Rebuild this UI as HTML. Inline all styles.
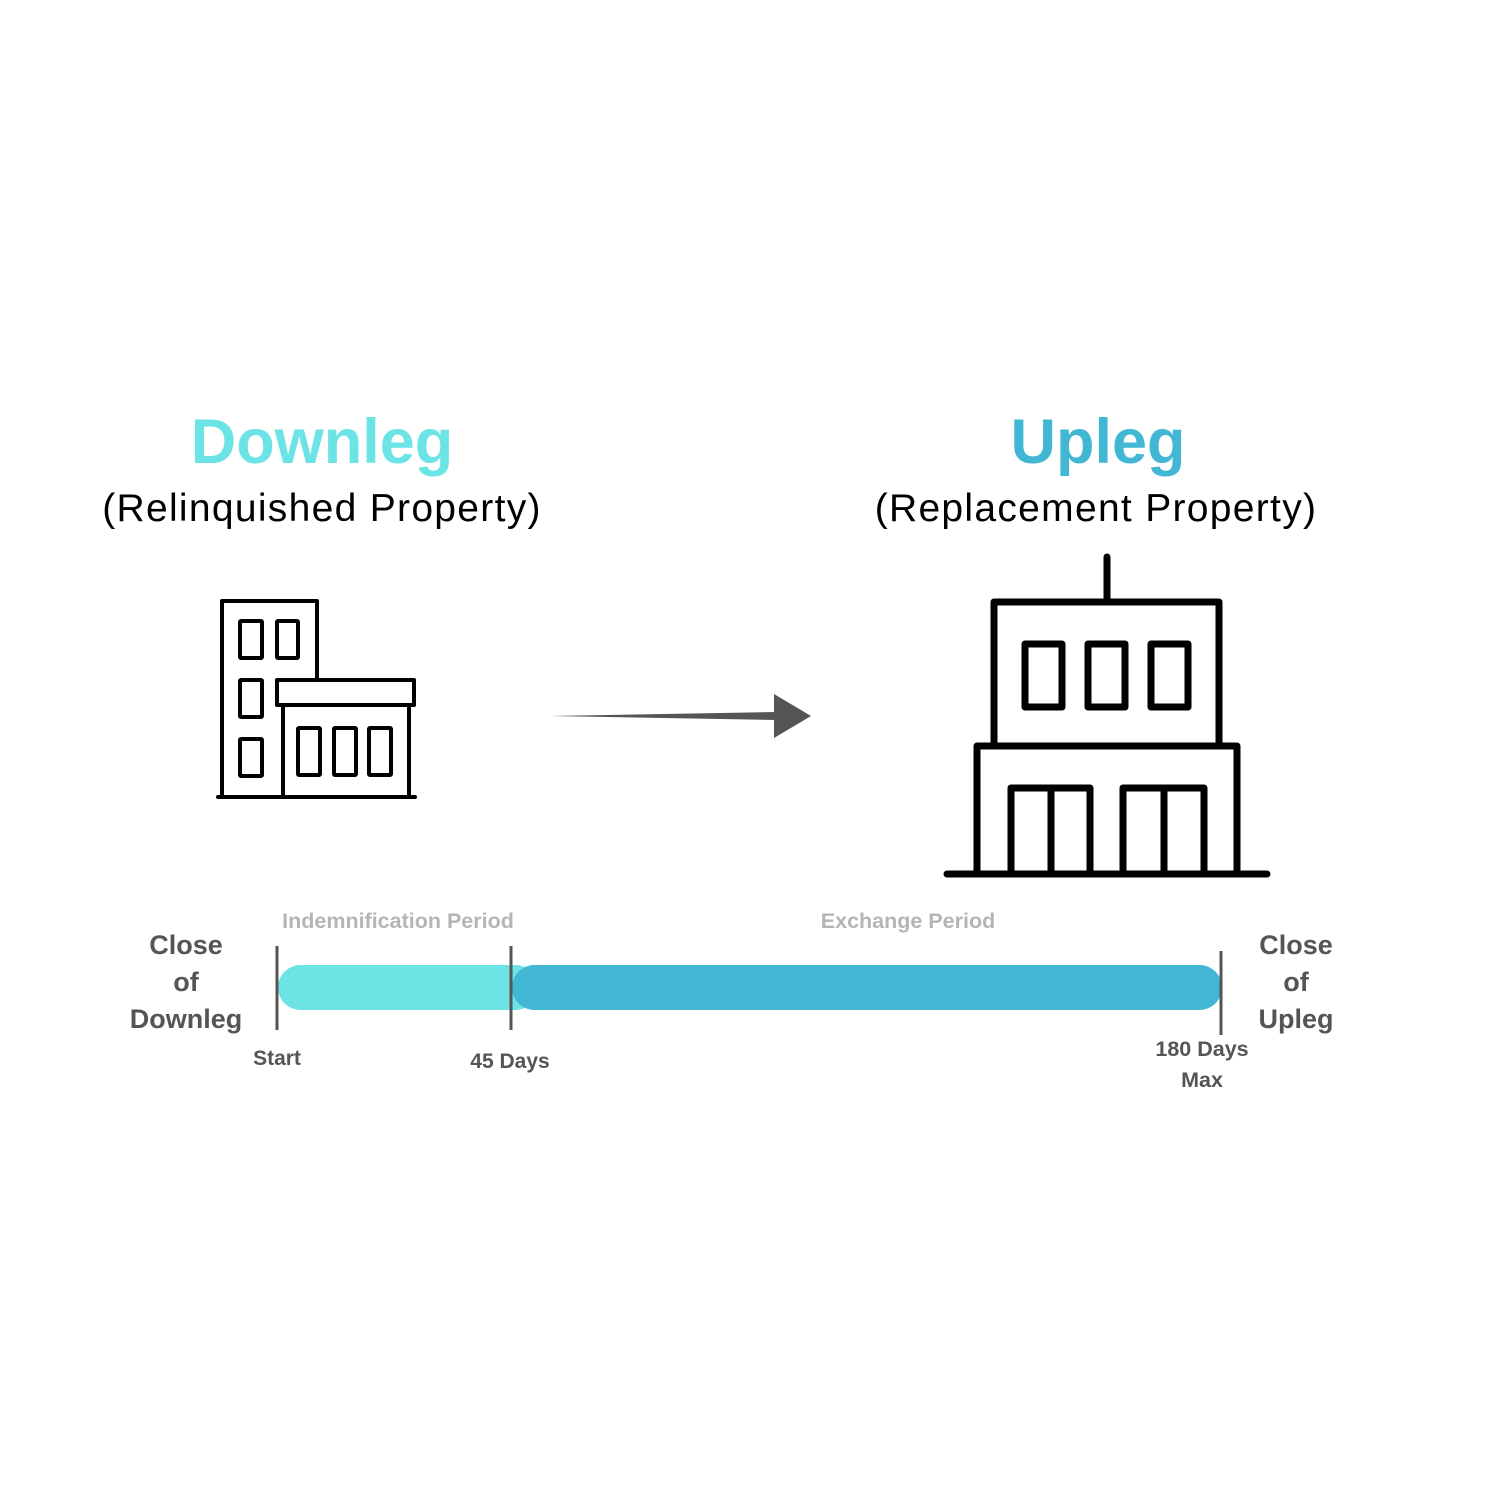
<!DOCTYPE html>
<html><head><meta charset="utf-8"><style>
html,body{margin:0;padding:0;background:#fff;}
body{width:1500px;height:1500px;position:relative;overflow:hidden;font-family:"Liberation Sans",sans-serif;}
.t{position:absolute;white-space:nowrap;text-align:center;}
</style></head><body>
<svg width="1500" height="1500" style="position:absolute;left:0;top:0">
<g fill="none" stroke="#000" stroke-width="4" stroke-linejoin="round" stroke-linecap="round">
<polyline points="222,797 222,601 317,601 317,679"/>
<rect x="240" y="621" width="22" height="37" rx="1"/>
<rect x="277" y="621" width="21" height="37" rx="1"/>
<rect x="240" y="680" width="22" height="37" rx="1"/>
<rect x="240" y="739" width="22" height="37" rx="1"/>
<rect x="277" y="680" width="137" height="25"/>
<polyline points="283,705 283,797"/><polyline points="409,705 409,797"/>
<rect x="298" y="728" width="22" height="47" rx="1"/>
<rect x="334" y="728" width="22" height="47" rx="1"/>
<rect x="369" y="728" width="22" height="47" rx="1"/>
<line x1="218" y1="797" x2="415" y2="797"/>
</g>
<g fill="none" stroke="#000" stroke-width="7" stroke-linejoin="round" stroke-linecap="round">
<line x1="1107" y1="557" x2="1107" y2="601"/>
<polyline points="994,745 994,602 1219,602 1219,745"/>
<rect x="1025" y="644" width="37" height="63"/>
<rect x="1088" y="644" width="37" height="63"/>
<rect x="1151" y="644" width="37" height="63"/>
<polyline points="977,874 977,746 1237,746 1237,874"/>
<polyline points="1011,874 1011,788 1090,788 1090,874"/>
<line x1="1051" y1="788" x2="1051" y2="874"/>
<polyline points="1123,874 1123,788 1204,788 1204,874"/>
<line x1="1164" y1="788" x2="1164" y2="874"/>
<line x1="947" y1="874" x2="1267" y2="874"/>
</g>
<polygon points="550,716 776,712 776,720" fill="#555"/>
<polygon points="774,694 811,716 774,738" fill="#555"/>
<rect x="278" y="965" width="260" height="45" rx="22.5" fill="#6ce3e5"/>
<rect x="512" y="965" width="710" height="45" rx="22.5" fill="#41b7d3"/>
<g stroke="#555" stroke-width="3">
<line x1="277" y1="946" x2="277" y2="1030"/>
<line x1="511" y1="946" x2="511" y2="1030"/>
<line x1="1221" y1="951" x2="1221" y2="1035"/>
</g>
</svg>
<div class="t" style="left:122px;top:406px;width:400px;font-size:63px;font-weight:bold;color:#6ce3e5">Downleg</div>
<div class="t" style="left:898px;top:406px;width:400px;font-size:63px;font-weight:bold;color:#41b7d3">Upleg</div>
<div class="t" style="left:72px;top:487px;width:500px;font-size:39px;letter-spacing:1.3px;color:#000">(Relinquished Property)</div>
<div class="t" style="left:846px;top:487px;width:500px;font-size:39px;letter-spacing:1.3px;color:#000">(Replacement Property)</div>
<div class="t" style="left:248px;top:909px;width:300px;font-size:21.5px;font-weight:bold;color:#b5b5b5">Indemnification Period</div>
<div class="t" style="left:758px;top:909px;width:300px;font-size:21.5px;font-weight:bold;color:#b5b5b5">Exchange Period</div>
<div class="t" style="left:106px;top:927px;width:160px;font-size:27px;font-weight:bold;color:#555;line-height:37px">Close<br>of<br>Downleg</div>
<div class="t" style="left:1216px;top:927px;width:160px;font-size:27px;font-weight:bold;color:#555;line-height:37px">Close<br>of<br>Upleg</div>
<div class="t" style="left:217px;top:1047px;width:120px;font-size:21px;font-weight:bold;color:#555">Start</div>
<div class="t" style="left:450px;top:1050px;width:120px;font-size:21px;font-weight:bold;color:#555">45 Days</div>
<div class="t" style="left:1132px;top:1034px;width:140px;font-size:21.5px;font-weight:bold;color:#555;line-height:31px">180 Days<br>Max</div>
</body></html>
